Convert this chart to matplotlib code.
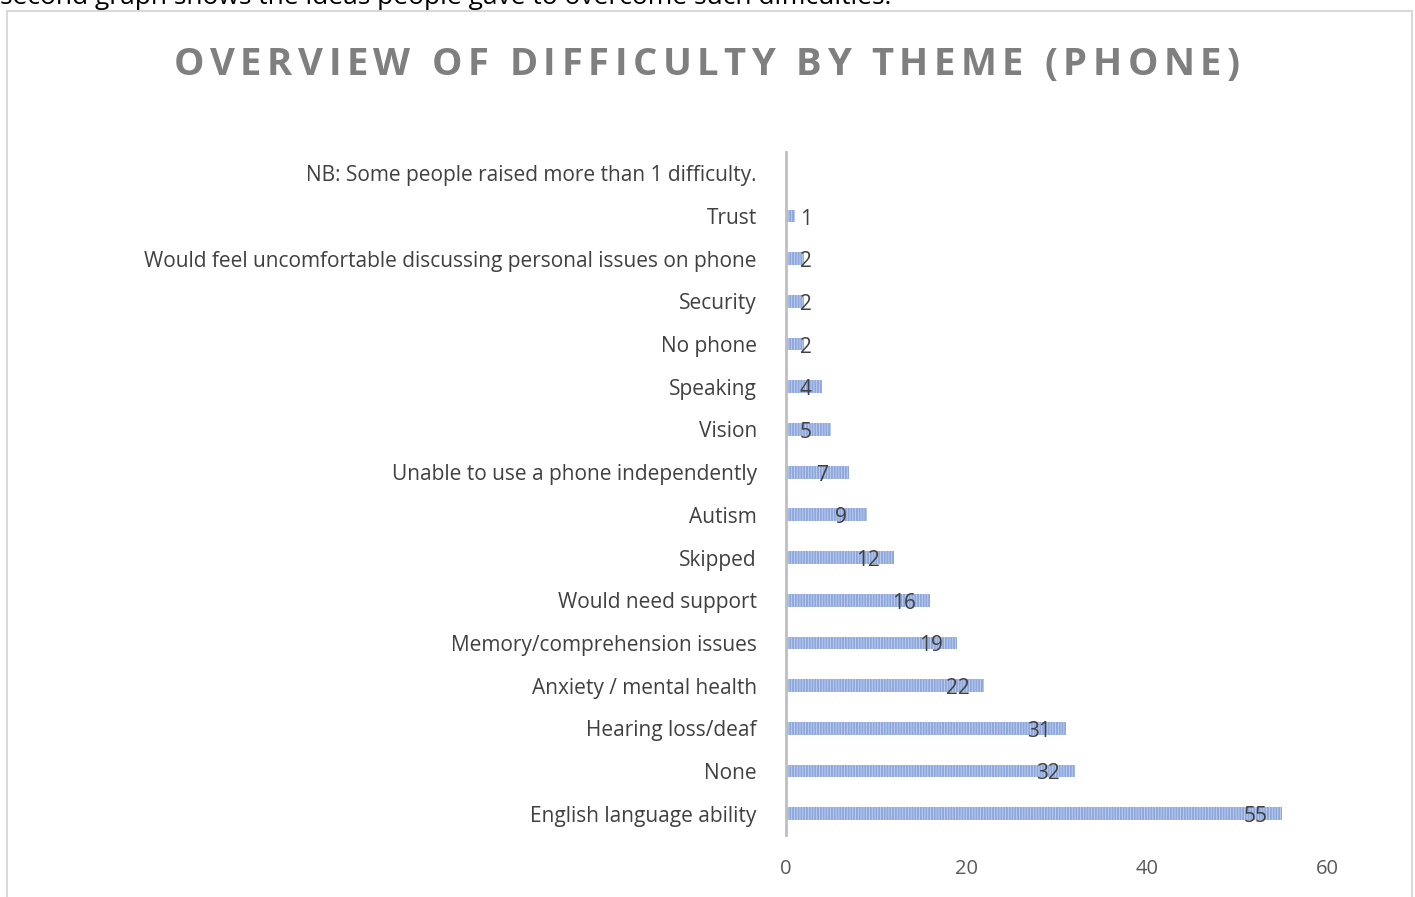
import numpy as np
import matplotlib.pyplot as plt
import matplotlib.patches as patches
from matplotlib.font_manager import FontProperties

plt.rcParams['font.family'] = ['Open Sans', 'DejaVu Sans']
plt.rcParams['hatch.linewidth'] = 1.4

categories = [
    "English language ability",
    "None",
    "Hearing loss/deaf",
    "Anxiety / mental health",
    "Memory/comprehension issues",
    "Would need support",
    "Skipped",
    "Autism",
    "Unable to use a phone independently",
    "Vision",
    "Speaking",
    "No phone",
    "Security",
    "Would feel uncomfortable discussing personal issues on phone",
    "Trust",
    "NB: Some people raised more than 1 difficulty.",
]
counts = [55, 32, 31, 22, 19, 16, 12, 9, 7, 5, 4, 2, 2, 2, 1, np.nan]
xticks = [0, 20, 40, 60]
title = "OVERVIEW OF DIFFICULTY BY THEME (PHONE)"

W, H = 1415, 897
fig = plt.figure(figsize=(W / 100, H / 100), dpi=100)
renderer = fig.canvas.get_renderer()

# page text cut off at the top and chart border
fig.text(0.0, 1 - 4 / H, "second graph shows the ideas people gave to overcome such difficulties.",
         fontsize=19, color="black", va="baseline", ha="left")
fig.patches.append(patches.Rectangle((7 / W, -0.05), (1412 - 7) / W, 1.05 - 11 / H,
                                     transform=fig.transFigure, fill=False,
                                     edgecolor="#d9d9d9", linewidth=1.5))

# title with letter spacing: place characters one by one
fp = FontProperties(family="Open Sans", weight="bold", size=27.5)


def text_w(s):
    w, _, _ = renderer.get_text_width_height_descent(s, fp, ismath=False)
    return w


bar_w = text_w("|")
offsets = [text_w(title[:i] + "|") - bar_w if i else 0.0 for i in range(len(title))]
natural = offsets[-1] + text_w(title[-1])
gap = (1240 - 174 - natural) / (len(title) - 1)
for i, ch in enumerate(title):
    if ch != " ":
        fig.text((174 + offsets[i] + gap * i) / W, 1 - 75 / H, ch, fontproperties=fp,
                 color="#7f7f7f", ha="left", va="baseline")

ax = fig.add_axes([786 / W, 1 - 835 / H, (1327 - 786) / W, (835 - 152) / H])
y = np.arange(len(categories))
vals = np.array(counts, dtype=float)
ax.barh(y, np.nan_to_num(vals), height=0.3, color="#c3d2ee", edgecolor="#8ea7dc",
        hatch="||||||", linewidth=0)

for yi, v in zip(y, vals):
    if np.isnan(v):
        continue
    ax.text(max(v - 2.9, 2.2), yi - 0.07, f"{int(v)}", ha="center", va="center",
            fontsize=15, color="#404040")

ax.set_xlim(0, 60)
ax.set_ylim(-0.5, len(categories) - 0.5)
ax.set_yticks(y)
ax.set_yticklabels(categories, fontsize=15, color="#404040")
ax.set_xticks(xticks)
ax.set_xticklabels([str(t) for t in xticks], fontsize=14.5, color="#595959")
ax.tick_params(axis="both", length=0)
ax.tick_params(axis="y", pad=21)
ax.tick_params(axis="x", pad=17)
for s in ["top", "right", "bottom"]:
    ax.spines[s].set_visible(False)
ax.spines["left"].set_color("#bfbfbf")
ax.spines["left"].set_linewidth(2)

fig.savefig("out.png", dpi=100)
